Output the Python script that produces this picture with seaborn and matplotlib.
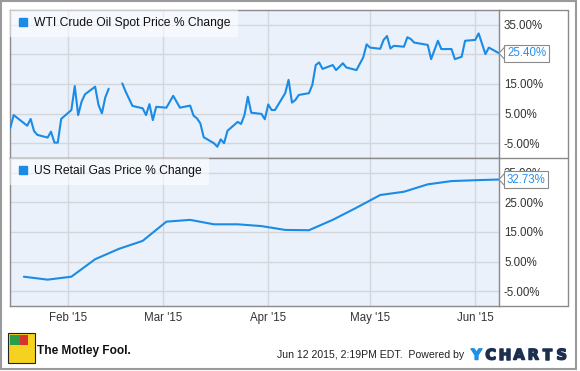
import matplotlib
matplotlib.use("Agg")
import matplotlib.pyplot as plt
import matplotlib.dates as mdates
import matplotlib.patheffects as pe
from matplotlib.lines import Line2D
from matplotlib.patches import Rectangle, Polygon
from matplotlib.transforms import blended_transform_factory
import numpy as np
import pandas as pd
import seaborn as sns

# ---------------- data ----------------
oil_dates = [
    "2015-01-15", "2015-01-16", "2015-01-20", "2015-01-21", "2015-01-22", "2015-01-23",
    "2015-01-26", "2015-01-27", "2015-01-28", "2015-01-29", "2015-01-30",
    "2015-02-02", "2015-02-03", "2015-02-04", "2015-02-05", "2015-02-06",
    "2015-02-09", "2015-02-10", "2015-02-11", "2015-02-12", "2015-02-13",
    "2015-02-16", "2015-02-17", "2015-02-18", "2015-02-20",
    "2015-02-23", "2015-02-24", "2015-02-25", "2015-02-26", "2015-02-27",
    "2015-03-02", "2015-03-04", "2015-03-06",
    "2015-03-09", "2015-03-10", "2015-03-11", "2015-03-12", "2015-03-13",
    "2015-03-16", "2015-03-17", "2015-03-18", "2015-03-19", "2015-03-20",
    "2015-03-23", "2015-03-24", "2015-03-25", "2015-03-26", "2015-03-27",
    "2015-03-30", "2015-03-31", "2015-04-01", "2015-04-02", "2015-04-03",
    "2015-04-06", "2015-04-07", "2015-04-08", "2015-04-09", "2015-04-10",
    "2015-04-13", "2015-04-14", "2015-04-15", "2015-04-16", "2015-04-17",
    "2015-04-20", "2015-04-21", "2015-04-23", "2015-04-24",
    "2015-04-27", "2015-04-29", "2015-04-30", "2015-05-01",
    "2015-05-04", "2015-05-05", "2015-05-06", "2015-05-07", "2015-05-08",
    "2015-05-11", "2015-05-12", "2015-05-13", "2015-05-14",
    "2015-05-18", "2015-05-19", "2015-05-21", "2015-05-22",
    "2015-05-25", "2015-05-26", "2015-05-28", "2015-05-29",
    "2015-06-01", "2015-06-02", "2015-06-04", "2015-06-05", "2015-06-08",
]
oil_values = [
    0.2, 4.5, 0.9, 3.2, -0.9, -2.2,
    -3.1, -1.1, -4.8, -4.8, 3.2,
    6.2, 14.3, 4.5, 9.0, 11.5,
    14.1, 7.9, 5.1, 10.5, 13.4,
    np.nan, 15.2, 12.4, 7.6,
    6.8, 4.5, 8.2, 2.8, 7.3,
    7.0, 11.0, 7.0,
    7.7, 4.3, 3.4, 1.7, -3.0,
    -5.0, -6.2, -3.7, -5.0, -0.8,
    2.2, 1.5, 4.5, 10.7, 5.3,
    4.9, 3.1, 8.1, 6.2, 6.2,
    11.9, 16.4, 8.7, 9.6, 11.3,
    11.9, 14.7, 21.4, 22.3, 20.1,
    21.4, 19.7, 22.0, 20.6,
    19.7, 24.0, 28.4, 27.3,
    26.9, 29.9, 31.2, 27.0, 27.9,
    27.6, 30.8, 30.2, 29.0,
    28.2, 23.4, 29.6, 26.8,
    26.8, 23.4, 24.2, 29.6,
    29.9, 32.1, 25.1, 27.3, 25.40,
]

gas_dates = [
    "2015-01-19", "2015-01-26", "2015-02-02", "2015-02-09", "2015-02-16",
    "2015-02-23", "2015-03-02", "2015-03-09", "2015-03-16", "2015-03-23",
    "2015-03-30", "2015-04-06", "2015-04-13", "2015-04-20", "2015-04-27",
    "2015-05-04", "2015-05-11", "2015-05-18", "2015-05-25", "2015-06-01",
    "2015-06-08",
]
gas_values = [
    -0.1, -1.1, -0.1, 5.8, 9.3,
    12.0, 18.5, 19.1, 17.6, 17.6,
    17.0, 15.7, 15.6, 19.1, 23.2,
    27.5, 28.6, 31.1, 32.2, 32.5,
    32.73,
]

oil_label = "WTI Crude Oil Spot Price % Change"
gas_label = "US Retail Gas Price % Change"
y_ticks = [-5, 5, 15, 25, 35]
x_start, x_end = "2015-01-14 22:00", "2015-06-08"

# ---------------- style ----------------
sns.set_style("white")
plt.rcParams["font.family"] = ["Liberation Sans", "DejaVu Sans"]

W, H = 580, 371
LINE = "#1a8be6"
BG = "#eaf1fb"
GRID = "#d3d6db"
FRAME = "#8a8a8a"
TXT = "#333333"
FS = 8.3
LEG_FS = 8.7


def fx(x):
    return x / W


def fy(y):
    return 1 - y / H


fig = plt.figure(figsize=(W / 100, H / 100), dpi=100)
fig.patch.set_facecolor("white")

ax_top = fig.add_axes([fx(10), fy(158), (499 - 10) / W, 148 / H])
ax_bot = fig.add_axes([fx(10), fy(306), (499 - 10) / W, 148 / H])

oil_df = pd.DataFrame({"date": pd.to_datetime(oil_dates), "value": oil_values})
oil_df["segment"] = oil_df["value"].isna().cumsum()
oil_df = oil_df.dropna()
gas_df = pd.DataFrame({"date": pd.to_datetime(gas_dates), "value": gas_values})

sns.lineplot(data=oil_df, x="date", y="value", units="segment", estimator=None,
             color=LINE, linewidth=1.5, ax=ax_top, zorder=3)
sns.lineplot(data=gas_df, x="date", y="value", color=LINE, linewidth=1.5,
             ax=ax_bot, zorder=3)

for ax, label, last in [(ax_top, oil_label, oil_values[-1]),
                        (ax_bot, gas_label, gas_values[-1])]:
    ax.set_facecolor(BG)
    ax.set_xlim(pd.Timestamp(x_start), pd.Timestamp(x_end))
    ax.set_ylim(-10, 40)
    ax.set_yticks(y_ticks)
    ax.set_yticklabels([f"{t:.2f}%" for t in y_ticks])
    ax.yaxis.tick_right()
    ax.xaxis.set_major_locator(mdates.MonthLocator())
    ax.xaxis.set_major_formatter(mdates.DateFormatter("%b '%y"))
    ax.tick_params(axis="both", length=0, labelsize=FS, colors=TXT)
    ax.tick_params(axis="y", pad=3.6)
    ax.tick_params(axis="x", pad=4.5)
    ax.grid(True, color=GRID, linewidth=1.0, zorder=0)
    ax.set_axisbelow(True)
    ax.set_xlabel("")
    ax.set_ylabel("")
    for s in ax.spines.values():
        s.set_color(FRAME)
        s.set_linewidth(1.0)
    handle = Line2D([], [], marker="s", linestyle="", color=LINE, markersize=5.8)
    leg = ax.legend([handle], [label], loc="upper left", borderaxespad=0,
                    fontsize=LEG_FS, frameon=True, fancybox=False, borderpad=0.6,
                    handlelength=1.0, handletextpad=0.4)
    leg.get_frame().set_facecolor("white")
    leg.get_frame().set_alpha(0.55)
    leg.get_frame().set_edgecolor("none")
    for t in leg.get_texts():
        t.set_color("#111111")
    # last value marker
    tr = blended_transform_factory(ax.transAxes, ax.transData)
    dx = 6 / 489
    dy = 2.2
    ax.add_patch(Polygon([[1 + dx, last + dy], [1.0, last], [1 + dx, last - dy]],
                         closed=False, transform=tr, clip_on=False,
                         facecolor="white", edgecolor=FRAME, linewidth=0.8, zorder=5))
    ax.annotate(f"{last:.2f}%", xy=(1, last), xycoords=tr, xytext=(8, 0),
                textcoords="offset pixels", ha="left", va="center", fontsize=FS,
                color="#2a8ee6", zorder=6, annotation_clip=False,
                bbox=dict(boxstyle="square,pad=0.22", facecolor="white",
                          edgecolor=FRAME, linewidth=0.8))

ax_top.tick_params(axis="x", labelbottom=False)

# frame around the label area
for (x0, y0, x1, y1) in [(499, 10, 568, 10), (499, 158, 568, 158),
                         (499, 306, 568, 306), (568, 10, 568, 306)]:
    fig.add_artist(Line2D([fx(x0), fx(x1)], [fy(y0), fy(y1)], color=FRAME,
                          linewidth=1.0, transform=fig.transFigure))

# outer border
fig.add_artist(Rectangle((fx(1), fy(369)), (576 - 1) / W, (369 - 1) / H,
                         transform=fig.transFigure, fill=False,
                         edgecolor="#9a9a9a", linewidth=1.5))

# footer: logo placeholder + texts
fig.add_artist(Rectangle((fx(8), fy(363)), 27 / W, 30 / H, transform=fig.transFigure,
                         facecolor="#f4d21f", edgecolor="#222222", linewidth=0.8))
fig.add_artist(Rectangle((fx(10), fy(345)), 10 / W, 10 / H, transform=fig.transFigure,
                         facecolor="#2a9d4a", edgecolor="none"))
fig.add_artist(Rectangle((fx(20), fy(345)), 8 / W, 10 / H, transform=fig.transFigure,
                         facecolor="#d9342b", edgecolor="none"))
fig.text(fx(37), fy(351), "The Motley Fool.", fontsize=8.6, fontweight="bold",
         color="#111111", ha="left", va="center")
fig.text(fx(464), fy(355), "Jun 12 2015, 2:19PM EDT.  Powered by", fontsize=7.6,
         color="#222222", ha="right", va="center")
letters = "YCHARTS"
for i, ch in enumerate(letters):
    col = "#1e90e6" if i == 0 else "#1c2f4f"
    fig.text(fx(476.5 + i * 14.2), fy(355), ch, fontsize=10.5, fontweight="bold",
             family="DejaVu Sans", color=col, ha="center", va="center",
             path_effects=[pe.withStroke(linewidth=1.1, foreground=col)])

fig.savefig("out.png", dpi=100)
